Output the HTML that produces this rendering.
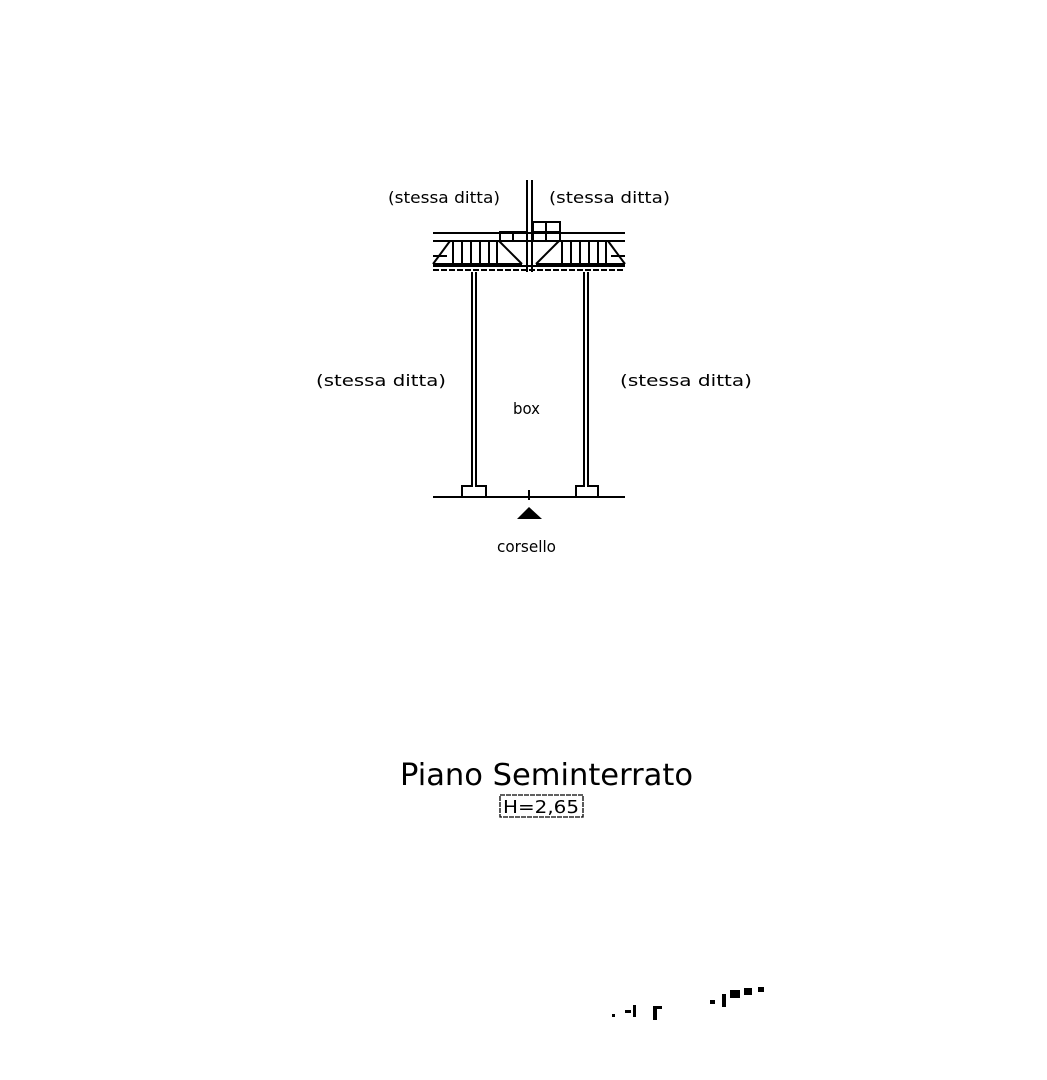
<!DOCTYPE html>
<html><head><meta charset="utf-8"><style>
html,body{margin:0;padding:0;background:#fff}
svg{display:block}
text{font-family:"DejaVu Sans","Liberation Sans",sans-serif;fill:#000}
</style></head><body>
<svg width="1047" height="1080" viewBox="0 0 1047 1080" xmlns="http://www.w3.org/2000/svg">
<g stroke="#000" fill="none" stroke-width="2">
<line x1="527" y1="180" x2="527" y2="272"/>
<line x1="532" y1="180" x2="532" y2="272"/>
<line x1="433" y1="233" x2="625" y2="233"/>
<line x1="433" y1="241" x2="625" y2="241"/>
<line x1="433" y1="266" x2="625" y2="266"/>
<line x1="433" y1="270" x2="625" y2="270" stroke-dasharray="6,2"/>
<polyline points="433,264 450,241"/>
<line x1="433" y1="264" x2="522" y2="264"/>
<line x1="499" y1="241" x2="522" y2="264"/>
<rect x="500" y="232" width="27" height="9"/>
<line x1="513" y1="232" x2="513" y2="241"/>
<line x1="453" y1="241" x2="453" y2="264"/>
<line x1="462" y1="241" x2="462" y2="264"/>
<line x1="471" y1="241" x2="471" y2="264"/>
<line x1="480" y1="241" x2="480" y2="264"/>
<line x1="489" y1="241" x2="489" y2="264"/>
<line x1="497" y1="241" x2="497" y2="264"/>
<line x1="433" y1="256" x2="447" y2="256"/>
<polyline points="625,264 608,241"/>
<line x1="536" y1="264" x2="625" y2="264"/>
<line x1="559" y1="241" x2="536" y2="264"/>
<rect x="533" y="222" width="27" height="19"/>
<line x1="546" y1="222" x2="546" y2="241"/>
<line x1="533" y1="232" x2="560" y2="232"/>
<line x1="562" y1="241" x2="562" y2="264"/>
<line x1="571" y1="241" x2="571" y2="264"/>
<line x1="580" y1="241" x2="580" y2="264"/>
<line x1="589" y1="241" x2="589" y2="264"/>
<line x1="598" y1="241" x2="598" y2="264"/>
<line x1="606" y1="241" x2="606" y2="264"/>
<line x1="611" y1="256" x2="625" y2="256"/>
<line x1="472" y1="272" x2="472" y2="483"/>
<line x1="476" y1="272" x2="476" y2="483"/>
<line x1="584" y1="272" x2="584" y2="483"/>
<line x1="588" y1="272" x2="588" y2="483"/>
<polyline points="472,483 472,486 462,486 462,497"/>
<polyline points="476,483 476,486 486,486 486,497"/>
<polyline points="584,483 584,486 576,486 576,497"/>
<polyline points="588,483 588,486 598,486 598,497"/>
<line x1="433" y1="497" x2="625" y2="497"/>
<line x1="529" y1="490" x2="529" y2="500"/>
</g>
<polygon points="517,519 529,507 542,519" fill="#000"/>
<g font-size="16" lengthAdjust="spacingAndGlyphs">
<text x="388" y="203" textLength="112" lengthAdjust="spacingAndGlyphs">(stessa ditta)</text>
<text x="549" y="203" textLength="121" lengthAdjust="spacingAndGlyphs">(stessa ditta)</text>
<text x="316" y="386" textLength="130" lengthAdjust="spacingAndGlyphs">(stessa ditta)</text>
<text x="620" y="386" textLength="132" lengthAdjust="spacingAndGlyphs">(stessa ditta)</text>
<text x="513" y="414" textLength="27" lengthAdjust="spacingAndGlyphs">box</text>
<text x="497" y="552" textLength="59" lengthAdjust="spacingAndGlyphs">corsello</text>
</g>
<text x="400" y="785" font-size="30" textLength="293" lengthAdjust="spacingAndGlyphs">Piano Seminterrato</text>
<rect x="500" y="795" width="83" height="22" fill="none" stroke="#000" stroke-width="1.3" stroke-dasharray="5,1"/>
<text x="503" y="813" font-size="18" textLength="76" lengthAdjust="spacingAndGlyphs">H=2,65</text>
<g fill="#000">
<rect x="612" y="1014" width="3" height="3"/><rect x="625" y="1010" width="6" height="3"/>
<rect x="633" y="1005" width="3" height="12"/><rect x="653" y="1006" width="4" height="14"/>
<rect x="657" y="1006" width="5" height="3"/><rect x="710" y="1000" width="5" height="4"/>
<rect x="722" y="994" width="4" height="13"/><rect x="730" y="990" width="10" height="8"/>
<rect x="744" y="988" width="8" height="7"/><rect x="758" y="987" width="6" height="5"/>
</g>
</svg>
</body></html>
